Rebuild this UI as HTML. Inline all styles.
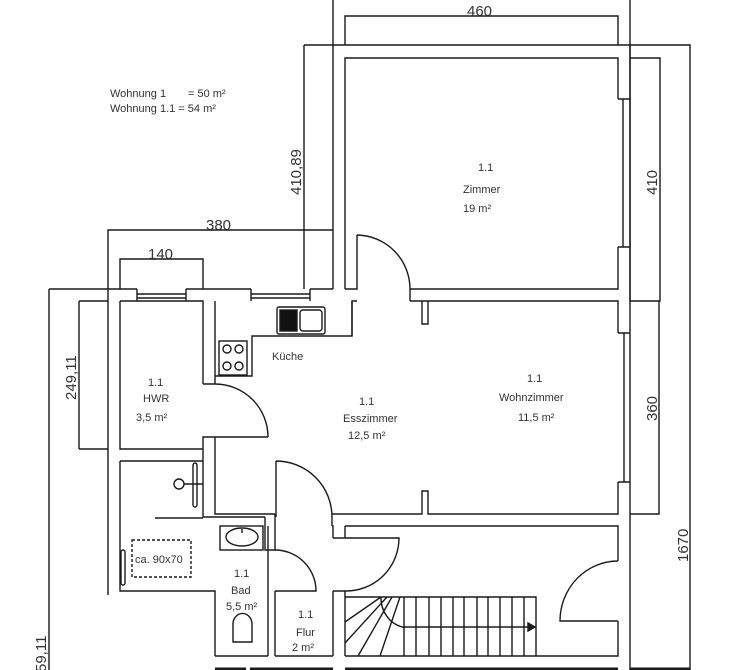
<!DOCTYPE html>
<html><head><meta charset="utf-8"><style>
html,body{margin:0;padding:0;background:#fff}
svg{display:block}
text{font-family:"Liberation Sans",sans-serif;fill:#333}
</style></head><body>
<svg width="750" height="670" viewBox="0 0 750 670" xmlns="http://www.w3.org/2000/svg">
<g stroke="#1a1a1a" stroke-width="1.4" fill="none">
<path d="M345 45V16H618V45"/>
<path d="M333 0V289M630 0V670M304 45H690V670M304 45V289"/>
<path d="M630 58H660V301H630M630 514H659V301"/>
<path d="M108 289V230H333M120 289V259H203V289"/>
<path d="M49 289V670M79 301V449M79 301H108M79 449H108"/>
<path d="M49 289H137M186 289H251M310 289H333M137 289V301M186 289V301M251 289V301M310 289V301"/>
<path d="M137 294H186M137 298H186M251 294H310M251 298H310"/>
<path d="M345 289V58H618V99M618 247V289H410M345 289H357V235M357 301H352V336"/>
<path d="M618 99H630M618 247H630M623 99V247M630 45V301"/>
<path d="M357 235A54 54 0 0 1 410 289V301"/>
<path d="M410 301H618V333M618 482V514H428V491H422V514H345M428 301V324H422V301"/>
<path d="M618 333H630M618 482H630M624 333V482"/>
<path d="M108 289V595M120 301H203V384M120 301V449H203V437H268"/>
<path d="M215 301V384M215 437V514H275M203 384H215"/>
<path d="M215 384A53 53 0 0 1 268 437"/>
<path d="M352 301V336H252V376H215"/>
<rect x="219" y="341" width="28" height="34"/>
<circle cx="227" cy="349" r="4"/><circle cx="239" cy="349" r="4"/><circle cx="227" cy="366" r="4"/><circle cx="239" cy="366" r="4"/>
<rect x="277" y="307" width="48" height="27" rx="2"/>
<rect x="280" y="310" width="17" height="21" fill="#111"/>
<rect x="300" y="310" width="22" height="21" rx="3"/>
<path d="M120 461H203V517H265M203 449V461M120 461V591H215V656M155 518H203"/>
<circle cx="179" cy="484" r="5"/><path d="M184 484H203"/>
<rect x="193" y="463" width="4" height="44" rx="2"/>
<rect x="121" y="550" width="4" height="35" rx="2"/>
<rect x="220" y="526" width="43" height="24"/>
<ellipse cx="242" cy="537" rx="16" ry="9"/>
<path d="M242 529V533"/>
<path d="M265 517V550H275V514M268 526V656M275 591V656"/>
<path d="M275 550A41 41 0 0 1 316 591H275"/>
<path d="M233 642V624A9 10 0 0 1 252 624V642Z"/>
<path d="M215 656H268"/>
<path d="M276 461V517M276 461A56 56 0 0 1 332 517V526M332 514H345M332 526H333V538M333 591V656M345 591V656M275 656H333"/>
<rect x="132" y="540" width="59" height="37" stroke-dasharray="3,2"/>
<path d="M345 526H618V561M618 621V656H345M345 538V526"/>
<path d="M333 538H399A53 53 0 0 1 345 591H333"/>
<path d="M618 561A58 60 0 0 0 560 621H618"/>
<path d="M345 597H536V656M404 597V656M416 597V656M429 597V656M441 597V656M453 597V656M464 597V656M477 597V656M488 597V656M500 597V656M512 597V656M524 597V656"/>
<path d="M381 597A28 30 0 0 0 402 627H534M345 622L381 597M345 643L387 597M358 656L392 597M380 656L400 597"/>
<path d="M528 623L535 627L528 631Z" fill="#1a1a1a"/>
<path d="M215 669H246M250 669H333M345 669H618M630 669H690" stroke-width="3"/>
</g>
<g font-size="11">
<text x="110" y="97">Wohnung 1</text><text x="188" y="97">= 50 m²</text>
<text x="110" y="112">Wohnung 1.1 = 54 m²</text>
<text x="272" y="360">Küche</text>
<text x="148" y="386">1.1</text><text x="143" y="402">HWR</text><text x="136" y="421">3,5 m²</text>
<text x="359" y="405">1.1</text><text x="343" y="422">Esszimmer</text><text x="348" y="439">12,5 m²</text>
<text x="527" y="382">1.1</text><text x="499" y="401">Wohnzimmer</text><text x="518" y="421">11,5 m²</text>
<text x="478" y="171">1.1</text><text x="463" y="193">Zimmer</text><text x="463" y="212">19 m²</text>
<text x="234" y="577">1.1</text><text x="231" y="594">Bad</text><text x="226" y="610">5,5 m²</text>
<text x="298" y="618">1.1</text><text x="296" y="636">Flur</text><text x="292" y="651">2 m²</text>
<text x="135" y="563">ca. 90x70</text>
</g>
<g font-size="15">
<text x="467" y="16">460</text>
<text x="206" y="230">380</text>
<text x="148" y="259">140</text>
<text transform="translate(301,195) rotate(-90)">410,89</text>
<text transform="translate(657,195) rotate(-90)">410</text>
<text transform="translate(657,421) rotate(-90)">360</text>
<text transform="translate(688,562) rotate(-90)">1670</text>
<text transform="translate(76,400) rotate(-90)">249,11</text>
<text transform="translate(46,672) rotate(-90)">59,11</text>
</g>
</svg>
</body></html>
